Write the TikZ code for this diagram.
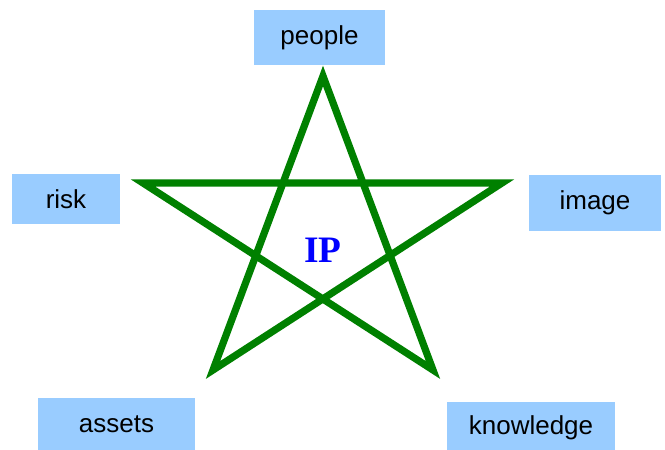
\documentclass[tikz,border=0pt]{standalone}
\usepackage{fontspec}
\setmainfont{Liberation Sans}
\newfontfamily\ipfont{Liberation Serif}
\usepackage{tikz}
\usetikzlibrary{positioning}
\definecolor{boxBlue}{RGB}{153, 204, 255}
\definecolor{starGreen}{RGB}{0, 128, 0}
\definecolor{ipBlue}{RGB}{0, 0, 255}

\begin{document}
\begin{tikzpicture}[x=0.75pt, y=-0.75pt, every node/.style={inner sep=0pt, font=\fontsize{19.5}{22}\selectfont}, labelbox/.style={fill=boxBlue, text=black}]
    \useasboundingbox (0,0) rectangle (665,450);

    % star points
    \coordinate (top) at (323,76);
    \coordinate (left) at (143,183);
    \coordinate (right) at (502,183);
    \coordinate (botleft) at (213,370);
    \coordinate (botright) at (433,370);

    \draw[starGreen, line width=5.4pt, line join=miter] (top) -- (botleft) -- (right) -- (left) -- (botright) -- cycle;

    \node[text=ipBlue, font=\ipfont\bfseries\fontsize{28}{30}\selectfont] (ip) at (323,250) {IP};

    \node[labelbox, minimum width=98.25pt, minimum height=41.25pt] (people) at (319.5,37.5) {people};
    \node[labelbox, minimum width=81pt, minimum height=37.5pt] (risk) at (66,199) {risk};
    \node[labelbox, minimum width=99pt, minimum height=42pt] (image) at (595,203) {image};
    \node[labelbox, minimum width=117.75pt, minimum height=39pt] (assets) at (116.5,424) {assets};
    \node[labelbox, minimum width=126pt, minimum height=39pt] (knowledge) at (531,428) {knowledge};
\end{tikzpicture}
\end{document}
